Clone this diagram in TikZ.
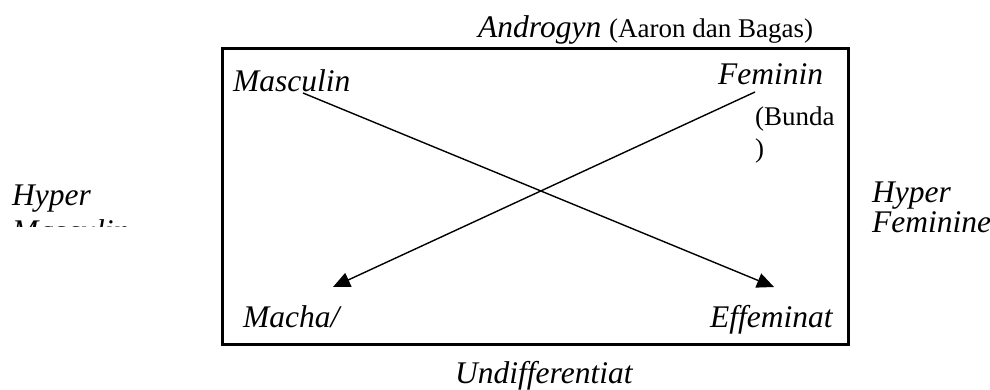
\documentclass[tikz,border=0pt]{standalone}
\usepackage{fontspec}
\setmainfont{Liberation Serif}[ItalicFont={Liberation Serif Italic}]
\usetikzlibrary{arrows.meta}
\begin{document}
\begin{tikzpicture}[x=1pt,y=-1pt,
  lbl/.style={inner sep=0pt, anchor=base west, font=\fontsize{31.5}{36}\selectfont\itshape},
  sub/.style={inner sep=0pt, anchor=base west, font=\fontsize{27}{31}\selectfont},
  conn/.style={line width=1.4pt, -{Triangle[length=17pt,width=15pt]}}]
\useasboundingbox (0,0) rectangle (990,390);
\draw[line width=3pt] (222,49) rectangle (848,344);
\node[lbl] (andro) at (478,38) {Androgyn \fontsize{27}{31}\selectfont\upshape(Aaron dan Bagas)};
\node[lbl] (masc) at (233,92) {Masculin};
\node[lbl] (fem) at (718,85) {Feminin};
\node[sub] (bunda) at (755,126) {(Bunda};
\node[sub] (bunda2) at (755,158) {)};
\node[lbl] (hyperL) at (12,205) {Hyper};
\begin{scope}
\clip (0,0) rectangle (220,226);
\node[lbl] (mascL) at (12,241) {Masculin};
\end{scope}
\node[lbl] (hyperR) at (872,203) {Hyper};
\node[lbl] (femR) at (872,232) {Feminine};
\node[lbl] (macha) at (243,327) {Macha/};
\node[lbl] (effem) at (710,327) {Effeminat};
\node[lbl] (undiff) at (455,383) {Undifferentiat};
\coordinate (ms) at (303,93);
\coordinate (ee) at (774,287);
\coordinate (fs) at (755,92);
\coordinate (me) at (333,287);
\draw[conn] (ms) -- (ee);
\draw[conn] (fs) -- (me);
\end{tikzpicture}
\end{document}
